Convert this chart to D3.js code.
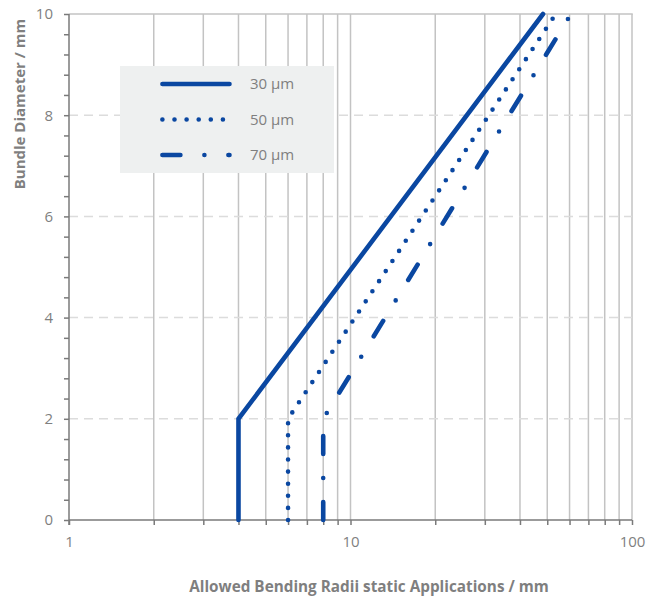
<!DOCTYPE html>
<html><head><meta charset="utf-8">
<script src="https://cdn.jsdelivr.net/npm/d3@7"></script>
<style>
body{margin:0;background:#fff;}
svg{display:block;font-family:"Open Sans",sans-serif;}
</style></head>
<body>
<svg id="chart" width="657" height="599"></svg>
<script>
// ---- data ----
const seriesNames = ["30 µm", "50 µm", "70 µm"];
const yValues = [0, 2, 10];
const x30 = [4, 4, 48.3];
const x50 = [6, 6, 53.6];
const x70 = [8, 8, 60.7];
const yTickValues = [0, 2, 4, 6, 8, 10];
const xTickLabels = [1, 10, 100];
const xTitle = "Allowed Bending Radii static Applications / mm";
const yTitle = "Bundle Diameter / mm";

const svg = d3.select("#chart");
const x = d3.scaleLog().domain([1, 100]).range([69, 632]);
const y = d3.scaleLinear().domain([0, 10]).range([520, 14]);
const blue = "#0a47a1";
const gray = "#7f7f7f";

// minor x ticks (all decades)
const xAll = [];
for (let d = 1; d <= 10; d *= 10) for (let k = 1; k < 10; k++) xAll.push(d * k);
xAll.push(100);

// vertical gridlines
svg.append("g").selectAll("line").data(xAll.filter(v => v > 1)).join("line")
  .attr("x1", d => x(d)).attr("x2", d => x(d))
  .attr("y1", y(0)).attr("y2", y(10))
  .attr("stroke", "#c3c3c3").attr("stroke-width", 1.5);
// horizontal gridlines
svg.append("g").selectAll("line").data([2, 4, 6, 8]).join("line")
  .attr("x1", x(1)).attr("x2", x(100))
  .attr("y1", d => y(d)).attr("y2", d => y(d))
  .attr("stroke", "#dcdcdc").attr("stroke-width", 1.5)
  .attr("stroke-dasharray", "9,6");
// top border
svg.append("line").attr("x1", x(1)).attr("x2", x(100) + 0.75)
  .attr("y1", y(10)).attr("y2", y(10))
  .attr("stroke", "#c3c3c3").attr("stroke-width", 1.5);

// y axis
const yMinor = d3.range(0, 10.001, 0.4);
const yAxis = d3.axisLeft(y).tickValues(yMinor).tickSize(5)
  .tickFormat(d => yTickValues.some(v => Math.abs(v - d) < 1e-6) ? d3.format("d")(Math.round(d)) : "");
const gy = svg.append("g").attr("transform", `translate(${x(1)},0)`).call(yAxis);
gy.select(".domain").attr("stroke", "#7a7a7a").attr("stroke-width", 1.5).attr("d", `M0,${y(10)}V${y(0) + 5}`);
gy.selectAll(".tick line").attr("stroke", "#7a7a7a").attr("stroke-width", 1.5);
gy.selectAll(".tick text").attr("x", -16).attr("fill", gray).style("font-size", "15px").style("font-family", "Open Sans");

// x axis
const xAxis = d3.axisBottom(x).tickValues(xAll).tickSize(5)
  .tickFormat(d => xTickLabels.includes(d) ? d3.format("d")(d) : "");
const gx = svg.append("g").attr("transform", `translate(0,${y(0)})`).call(xAxis);
gx.select(".domain").attr("stroke", "#7a7a7a").attr("stroke-width", 1.5).attr("d", `M${x(1)},0H${x(100)}`);
gx.selectAll(".tick line").attr("stroke", "#7a7a7a").attr("stroke-width", 1.5);
gx.selectAll(".tick text").attr("y", 16).attr("fill", gray).style("font-size", "15px").style("font-family", "Open Sans");

// series
const styles = [
  {xs: x30, dash: null},
  {xs: x50, dash: "0,12.1"},
  {xs: x70, dash: "18,24,0,24"}
];
const line = d3.line().x(d => x(d[0])).y(d => y(d[1]));
styles.forEach(s => {
  const pts = s.xs.map((v, i) => [v, yValues[i]]);
  svg.append("path").attr("d", line(pts))
    .attr("fill", "none").attr("stroke", blue).attr("stroke-width", 4.6)
    .attr("stroke-linecap", "round").attr("stroke-linejoin", "miter")
    .attr("stroke-dasharray", s.dash);
});

// legend
const lg = svg.append("g");
lg.append("rect").attr("x", 120).attr("y", 66).attr("width", 214).attr("height", 107).attr("fill", "#eef0f0");
const legendY = d3.scalePoint().domain(seriesNames).range([84, 155]);
seriesNames.forEach((n, i) => {
  lg.append("line").attr("x1", 162.4).attr("x2", 229.5)
    .attr("y1", legendY(n)).attr("y2", legendY(n))
    .attr("stroke", blue).attr("stroke-width", 4.6).attr("stroke-linecap", "round")
    .attr("stroke-dasharray", styles[i].dash);
  lg.append("text").attr("x", 250).attr("y", legendY(n)).attr("dy", "0.35em")
    .attr("fill", gray).style("font-size", "15px").text(n);
});

// axis titles
svg.append("text").attr("x", 369).attr("y", 592).attr("text-anchor", "middle")
  .attr("fill", gray).style("font-size", "15.3px").style("font-weight", "bold").text(xTitle);
svg.append("text").attr("transform", "translate(25,104) rotate(-90)").attr("text-anchor", "middle")
  .attr("fill", gray).style("font-size", "15px").style("font-weight", "bold").text(yTitle);
</script>
</body></html>
